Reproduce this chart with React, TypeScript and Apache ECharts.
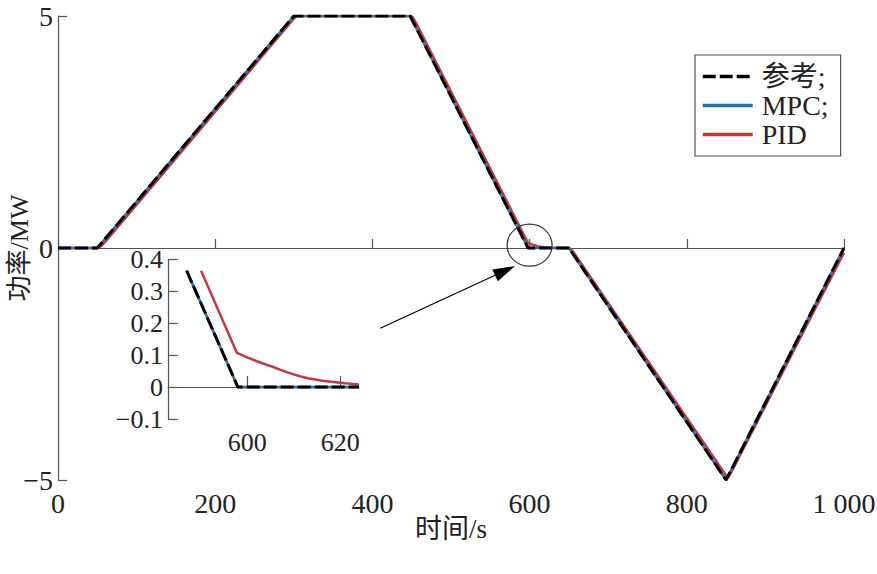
import React, { useEffect, useRef } from "react";
import * as echarts from "echarts";

const refData: number[][] = [[0, 0], [50, 0], [300, 5], [448, 5], [598, 0], [650, 0], [850, -5], [1000, 0]];
const mpcData: number[][] = [[0, 0], [50, 0], [300, 5], [448, 5], [598, 0], [650, 0], [850, -5], [1000, 0]];
const pidData: number[][] = [
  [0, 0], [50, 0], [53, 0.02], [56, 0.06], [60, 0.13], [300, 4.94], [303, 4.99], [308, 5],
  [448, 5], [451, 4.98], [455, 4.87], [598, 0.107], [602, 0.082], [606, 0.061], [611, 0.034],
  [618, 0.016], [624, 0.008], [650, 0.001], [653, -0.03], [657, -0.12], [850, -4.9],
  [853, -4.93], [857, -4.82], [1000, -0.1],
];

const insetRef: number[][] = [[587, 0.365], [598, 0], [624, 0]];
const insetMpc: number[][] = [[587, 0.365], [598, 0], [624, 0]];
const insetPid: number[][] = [
  [590.1, 0.365], [597.8, 0.107], [600, 0.093], [602.1, 0.081], [604, 0.071], [605.6, 0.063],
  [607, 0.055], [608.5, 0.047], [610, 0.040], [611.3, 0.034], [613, 0.028], [614.9, 0.023],
  [616.5, 0.019], [618.5, 0.016], [621, 0.012], [624, 0.0085],
];

const mainXTicks = { min: 0, max: 1000, interval: 200 };
const mainYTicks = { min: -5, max: 5, interval: 5 };
const insetXTickValues = [600, 620];
const insetYTicks = { min: -0.1, max: 0.4, interval: 0.1 };

const seriesNames = ["参考;", "MPC;", "PID"];
const circleCenter = [600, 0.06];
const arrowTail = [410, -1.73];
const arrowTip = [581.5, -0.39];

const FONT = "Liberation Serif, DejaVu Serif, Noto Sans CJK SC, serif";
const BLACK = "#000000";
const BLUE = "#2b70a9";
const RED = "#c23a40";

const minus = (s: string) => s.replace("-", "\u2212");

export default function App() {
  const ref = useRef<HTMLDivElement>(null);
  useEffect(() => {
    document.body.style.margin = "0";
    const chart = echarts.init(ref.current!, undefined, { renderer: "svg" });
    const axisLine = { show: true, lineStyle: { color: "#555", width: 1.2 } };
    const tick = (len: number) => ({ show: true, inside: true, length: len, lineStyle: { color: "#555", width: 1.2 } });
    chart.setOption({
      animation: false,
      backgroundColor: "#ffffff",
      textStyle: { fontFamily: FONT },
      grid: [
        { left: 58, right: 33, top: 16, bottom: 94, containLabel: false, outerBoundsMode: "none" },
        { left: 168, right: 518, top: 259.5, bottom: 155, containLabel: false, outerBoundsMode: "none" },
      ],
      legend: {
        data: seriesNames,
        orient: "vertical",
        left: 695,
        top: 55,
        itemWidth: 50,
        itemHeight: 14,
        itemGap: 0,
        padding: [7, 12, 7, 6],
        borderColor: "#555",
        borderWidth: 1.2,
        backgroundColor: "#fff",
        itemStyle: { opacity: 0 },
        lineStyle: { width: 3.4 },
        textStyle: { fontFamily: FONT, fontSize: 28, color: "#222", lineHeight: 29, padding: [0, 0, 0, 4] },
      },
      xAxis: [
        {
          type: "value", gridIndex: 0, ...mainXTicks,
          name: "时间/s", nameLocation: "middle", nameGap: 35, nameMoveOverlap: false,
          nameTextStyle: { fontFamily: FONT, fontSize: 27, color: "#222" },
          axisLine, axisTick: tick(9), splitLine: { show: false },
          axisLabel: { fontFamily: FONT, fontSize: 28, color: "#222", margin: 9,
            formatter: (v: number) => (v === 1000 ? "1 000" : String(v)) },
        },
        {
          type: "value", gridIndex: 1, min: 583, max: 624,
          axisLine, axisTick: { ...tick(11), customValues: insetXTickValues }, splitLine: { show: false },
          axisLabel: { fontFamily: FONT, fontSize: 26, color: "#222", margin: 10, customValues: insetXTickValues },
        },
      ],
      yAxis: [
        {
          type: "value", gridIndex: 0, ...mainYTicks,
          name: "功率/MW", nameLocation: "middle", nameGap: 26, nameMoveOverlap: false,
          nameTextStyle: { fontFamily: FONT, fontSize: 26, color: "#222" },
          axisLine, axisTick: tick(9), splitLine: { show: false },
          axisLabel: { fontFamily: FONT, fontSize: 28, color: "#222", margin: 5,
            formatter: (v: number) => minus(String(v)) },
        },
        {
          type: "value", gridIndex: 1, ...insetYTicks,
          axisLine, axisTick: tick(10), splitLine: { show: false },
          axisLabel: { fontFamily: FONT, fontSize: 26, color: "#222", margin: 5,
            formatter: (v: number) => minus(String(Math.round(v * 10) / 10)) },
        },
      ],
      series: [
        { name: "PID", type: "line", xAxisIndex: 0, yAxisIndex: 0, data: pidData, showSymbol: false, symbol: "none",
          lineStyle: { color: RED, width: 2.5 }, itemStyle: { color: RED }, z: 2 },
        { name: "MPC;", type: "line", xAxisIndex: 0, yAxisIndex: 0, data: mpcData, showSymbol: false, symbol: "none",
          lineStyle: { color: BLUE, width: 2.6 }, itemStyle: { color: BLUE }, z: 3 },
        { name: "参考;", type: "line", xAxisIndex: 0, yAxisIndex: 0, data: refData, showSymbol: false, symbol: "none",
          lineStyle: { color: BLACK, width: 3, type: [13, 4] }, itemStyle: { color: BLACK }, z: 4 },
        { name: "PID", type: "line", xAxisIndex: 1, yAxisIndex: 1, data: insetPid, showSymbol: false, symbol: "none",
          lineStyle: { color: RED, width: 2.5 }, itemStyle: { color: RED }, z: 2 },
        { name: "MPC;", type: "line", xAxisIndex: 1, yAxisIndex: 1, data: insetMpc, showSymbol: false, symbol: "none",
          lineStyle: { color: BLUE, width: 2.6 }, itemStyle: { color: BLUE }, z: 3 },
        { name: "参考;", type: "line", xAxisIndex: 1, yAxisIndex: 1, data: insetRef, showSymbol: false, symbol: "none",
          lineStyle: { color: BLACK, width: 3, type: [13, 4] }, itemStyle: { color: BLACK }, z: 4 },
      ],
    });
    const c = chart.convertToPixel({ gridIndex: 0 }, circleCenter) as number[];
    const t0 = chart.convertToPixel({ gridIndex: 0 }, arrowTail) as number[];
    const t1 = chart.convertToPixel({ gridIndex: 0 }, arrowTip) as number[];
    const dx = t1[0] - t0[0], dy = t1[1] - t0[1];
    const L = Math.sqrt(dx * dx + dy * dy);
    const ux = dx / L, uy = dy / L;
    const headLen = 22, headW = 6.5;
    const bx = t1[0] - ux * headLen, by = t1[1] - uy * headLen;
    chart.setOption({
      graphic: [
        { type: "ellipse", shape: { cx: c[0], cy: c[1], rx: 22.5, ry: 21 },
          style: { fill: "none", stroke: "#333", lineWidth: 1.2 }, z: 10 },
        { type: "line", shape: { x1: t0[0], y1: t0[1], x2: bx, y2: by },
          style: { stroke: "#000", lineWidth: 1.2 }, z: 10 },
        { type: "polygon", shape: { points: [[t1[0], t1[1]], [bx - uy * headW, by + ux * headW], [bx + uy * headW, by - ux * headW]] },
          style: { fill: "#000" }, z: 10 },
      ],
    });
    return () => chart.dispose();
  }, []);
  return <div ref={ref} style={{ width: 877, height: 574 }} />;
}
